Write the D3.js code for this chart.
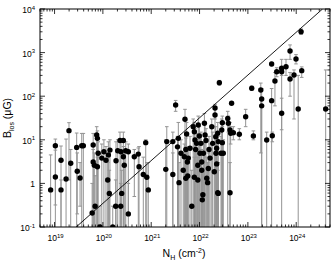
<!DOCTYPE html>
<html>
<head>
<meta charset="utf-8">
<script src="https://cdn.jsdelivr.net/npm/d3@7"></script>
<style>
  body { margin: 0; background: #fff; }
  text { font-family: "Liberation Sans", Arial, sans-serif; fill: #000; }
</style>
</head>
<body>
<svg id="chart" width="334" height="262"></svg>
<script>
// column density N_H (cm^-2), B_los (uG) with upper/lower error ends
var nH = [8.3e18,1.04e19,1.04e19,1.36e19,1.36e19,1.73e19,1.99e19,2.16e19,2.87e19,2.95e19,
  3.37e19,3.65e19,3.94e19,6.0e19,6.3e19,7.45e19,7.7e19,6.3e19,6.65e19,8.0e19,
  7.7e19,8.7e19,9.5e19,1.05e20,1.16e20,1.3e20,1.36e20,1.26e20,6.9e19,1.6e20,
  1.84e20,1.4e20,1.87e20,2.03e20,2.26e20,2.65e20,2.34e20,2.45e20,2.37e20,2.65e20,
  2.77e20,2.97e20,3.36e20,3.36e20,4.47e20,5.4e20,5.6e20,6.86e20,7.7e20,8.1e20,
  8.7e20,2.1e21,2.0e21,2.8e21,2.8e21,3.2e21,5.0e21,2.57e22,3.64e21,3.5e21,
  3.76e21,4.13e21,4.6e21,4.84e21,5.2e21,5.4e21,5.6e21,5.7e21,5.85e21,6.35e21,
  6.9e21,7.4e21,7.8e21,7.8e21,8.05e21,8.3e21,8.7e21,9.2e21,9.4e21,9.9e21,
  1.02e22,1.07e22,1.11e22,1.11e22,1.14e22,1.17e22,1.2e22,1.26e22,1.3e22,1.36e22,
  1.41e22,1.47e22,1.52e22,1.57e22,1.65e22,1.79e22,1.87e22,2.02e22,2.16e22,2.26e22,
  2.38e22,2.44e22,5.2e21,9.2e21,2.09e22,2.09e22,2.96e22,3.83e22,3.94e22,4.27e22,
  4.4e22,5.0e22,6.65e22,9.0e22,1.3e23,4.6e22,2.88e22,2.96e22,2.78e22,3.1e22,
  2.44e22,2.19e22,2.26e22,2.38e22,4.27e22,1.26e24,7.45e23,9.9e23,6.15e23,3.1e23,
  3.95e23,5.0e23,5.0e23,3.63e23,7.45e23,9.0e23,1.3e24,1.85e23,1.93e23,1.93e23,
  3.1e23,5.0e23,1.1e24,4.07e24,2.45e23,3.2e23,1.2e23];
var bLos = [0.71,7.3,1.4,3.4,0.71,1.26,16.2,2.9,6.7,1.9,
  1.33,7.3,7.3,0.21,7.6,12.9,10.8,3.1,2.6,4.9,
  2.4,0.1,3.8,5.3,3.4,4.5,0.59,1.2,0.3,0.1,
  0.3,5.8,3.3,5.6,9.6,9.6,0.3,0.59,5.3,4.1,
  2.6,5.6,0.2,5.3,4.1,4.7,2.4,1.6,8.6,1.38,
  0.71,9.1,2.1,9.1,1.6,63,29.6,204,10.8,6.9,
  1.04,4.9,2.0,4.1,6.0,13.6,3.1,1.48,3.8,6.4,
  0.3,20,15.3,1.38,9.9,6.0,8.3,1.2,21.9,12.2,
  4.9,8.3,3.1,2.0,0.42,0.55,4.9,23.9,12.9,9.6,
  1.31,1.04,2.2,6.0,3.8,20,8.3,1.85,11.8,6.4,
  14.1,0.59,1.31,2.6,53.7,37,24.7,31,23.9,16.8,
  14.1,14.6,13.4,33.9,12.2,69,16.8,8.6,4.9,4.9,
  9.1,4.9,2.8,0.61,0.61,3020,1090,713,475,548,
  365,437,365,223,248,307,385,139,86,60,
  79,40.5,51,51,9.9,12.4,152];
var bHi = [4.5,10.4,5.8,7.2,1.2,10.4,24.7,6,14.3,5,
  3,14,14,1,14,20,16,6,5,9,
  4,0.3,8,10,7,9,2,3,1.5,0.3,
  1.2,10,9,10,15,15,1,2,9,7,
  5,9,1,8,6,6.5,7,4,10,3,
  3,20,10,15,5,80,50,230,25,12,
  3,10,5,8,11,25,6,4,7,12,
  2,30,25,4,18,10,14,4,35,20,
  10,15,6,5,2,2,9,40,25,18,
  4,3,5,12,8,30,15,5,20,12,
  25,3,4,6,65,50,35,45,35,25,
  20,20,18,50,16,75,30,20,12,10,
  15,10,6,2,3,3500,1500,900,700,600,
  450,700,450,350,350,400,470,200,150,90,
  150,90,300,400,15,15,170];
var bLo = [0.01,0.32,0.01,0.01,0.01,0.01,1.2,0.01,0.01,0.2,
  0.3,0.01,0.01,0.01,0.01,0.01,0.01,0.01,0.01,0.01,
  0.3,0.01,0.01,0.01,0.01,0.01,0.01,0.01,0.01,0.01,
  0.01,0.01,0.01,0.01,0.01,0.01,0.01,0.01,0.01,0.01,
  0.01,0.01,0.01,0.2,0.5,0.01,0.01,0.01,0.01,0.01,
  0.01,0.01,0.01,0.01,0.01,45,0.01,180,0.01,0.01,
  0.01,0.01,0.01,0.01,0.01,0.01,0.01,0.01,0.01,0.01,
  0.01,0.01,0.01,0.01,0.01,0.01,0.01,0.01,0.01,0.01,
  0.01,0.01,0.01,0.01,0.01,0.01,0.01,0.01,0.01,0.01,
  0.01,0.01,0.01,0.01,0.01,0.01,0.01,0.01,0.01,0.01,
  0.01,0.01,0.01,0.01,30,0.01,0.01,0.01,15,0.01,
  8,10,10,20,10,65,0.01,0.01,0.01,0.01,
  0.01,0.01,0.01,0.01,0.01,2600,700,550,300,500,
  280,0.01,300,60,100,30,270,5,0.01,0.01,
  0.01,17,0.01,0.01,0.01,9,135];

// reference line end points [N_H, B]
var lineN = [2.8e19, 3.5e24];
var lineB = [0.1, 1e4];

var xTickExp = [19, 20, 21, 22, 23, 24];
var yTickExp = [-1, 0, 1, 2, 3, 4];

var svg = d3.select("#chart");
var plotL = 40, plotR = 330, plotT = 9, plotB = 227;

var x = d3.scaleLog().domain([5e18, 5e24]).range([plotL, plotR]);
var y = d3.scaleLog().domain([0.1, 1e4]).range([plotB, plotT]);

var pts = nH.map(function(n, i) {
  return { n: n, b: bLos[i], hi: bHi[i], lo: bLo[i] };
});

svg.append("clipPath").attr("id", "clip")
  .append("rect").attr("x", plotL).attr("y", plotT)
  .attr("width", plotR - plotL).attr("height", plotB - plotT);

var inner = svg.append("g").attr("clip-path", "url(#clip)");

// error bars
function clampY(v) { return y(Math.max(0.1, Math.min(1e4, v))); }
var barColor = "#949494";

inner.selectAll(".ebar").data(pts).enter().append("line")
  .attr("class", "ebar")
  .attr("x1", function(d) { return x(d.n); })
  .attr("x2", function(d) { return x(d.n); })
  .attr("y1", function(d) { return clampY(d.lo); })
  .attr("y2", function(d) { return clampY(d.hi); })
  .attr("stroke", barColor).attr("stroke-width", 1);

inner.selectAll(".capHi").data(pts).enter().append("line")
  .attr("class", "capHi")
  .attr("x1", function(d) { return x(d.n) - 1.8; })
  .attr("x2", function(d) { return x(d.n) + 1.8; })
  .attr("y1", function(d) { return y(d.hi); })
  .attr("y2", function(d) { return y(d.hi); })
  .attr("stroke", barColor).attr("stroke-width", 1);

inner.selectAll(".capLo").data(pts.filter(function(d) { return d.lo > 0.1; }))
  .enter().append("line")
  .attr("class", "capLo")
  .attr("x1", function(d) { return x(d.n) - 1.8; })
  .attr("x2", function(d) { return x(d.n) + 1.8; })
  .attr("y1", function(d) { return y(d.lo); })
  .attr("y2", function(d) { return y(d.lo); })
  .attr("stroke", barColor).attr("stroke-width", 1);

// diagonal relation
inner.append("line")
  .attr("x1", x(lineN[0])).attr("y1", y(lineB[0]))
  .attr("x2", x(lineN[1])).attr("y2", y(lineB[1]))
  .attr("stroke", "#000").attr("stroke-width", 0.9);

inner.selectAll(".dot").data(pts).enter().append("circle")
  .attr("class", "dot")
  .attr("cx", function(d) { return x(d.n); })
  .attr("cy", function(d) { return y(d.b); })
  .attr("r", 2.7)
  .attr("fill", "#000");

// frame
svg.append("rect").attr("x", plotL).attr("y", plotT)
  .attr("width", plotR - plotL).attr("height", plotB - plotT)
  .attr("fill", "none").attr("stroke", "#000").attr("stroke-width", 1);

// log ticks, inward on all four sides
function logTicks(lo, hi) {
  var out = [];
  for (var e = Math.floor(Math.log10(lo)); e <= Math.ceil(Math.log10(hi)); e++) {
    for (var m = 1; m < 10; m++) {
      var v = m * Math.pow(10, e);
      if (v >= lo * 0.999 && v <= hi * 1.001) out.push({ v: v, major: m === 1 });
    }
  }
  return out;
}
var tg = svg.append("g").attr("stroke", "#000").attr("stroke-width", 0.8);
logTicks(5e18, 5e24).forEach(function(t) {
  var px = x(t.v), len = t.major ? 5 : 2.5;
  tg.append("line").attr("x1", px).attr("x2", px).attr("y1", plotB).attr("y2", plotB - len);
  tg.append("line").attr("x1", px).attr("x2", px).attr("y1", plotT).attr("y2", plotT + len);
});
logTicks(0.1, 1e4).forEach(function(t) {
  var py = y(t.v), len = t.major ? 5 : 2.5;
  tg.append("line").attr("y1", py).attr("y2", py).attr("x1", plotL).attr("x2", plotL + len);
  tg.append("line").attr("y1", py).attr("y2", py).attr("x1", plotR).attr("x2", plotR - len);
});

// tick labels
xTickExp.forEach(function(e) {
  var t = svg.append("text").attr("x", x(Math.pow(10, e)) + 1).attr("y", 241)
    .attr("text-anchor", "middle").attr("font-size", 8.5);
  t.append("tspan").text("10");
  t.append("tspan").attr("dy", -3.5).attr("font-size", 6).text(e);
});
yTickExp.forEach(function(e) {
  var t = svg.append("text").attr("x", 35).attr("y", y(Math.pow(10, e)) + 4)
    .attr("text-anchor", "end").attr("font-size", 8.5);
  if (e === 0) { t.text("1"); return; }
  t.append("tspan").text("10");
  t.append("tspan").attr("dy", -3.5).attr("font-size", 6).text(e);
});

// axis titles
var xt = svg.append("text").attr("x", 184).attr("y", 257)
  .attr("text-anchor", "middle").attr("font-size", 10.5);
xt.append("tspan").text("N");
xt.append("tspan").attr("dy", 2.5).attr("font-size", 7).text("H");
xt.append("tspan").attr("dy", -2.5).text(" (cm");
xt.append("tspan").attr("dy", -4).attr("font-size", 7).text("-2");
xt.append("tspan").attr("dy", 4).text(")");

var yt = svg.append("text").attr("transform", "translate(11,118) rotate(-90)")
  .attr("text-anchor", "middle").attr("font-size", 10.5);
yt.append("tspan").text("B");
yt.append("tspan").attr("dy", 2.5).attr("font-size", 7).text("los");
yt.append("tspan").attr("dy", -2.5).text(" (\u03bcG)");
</script>
</body>
</html>
